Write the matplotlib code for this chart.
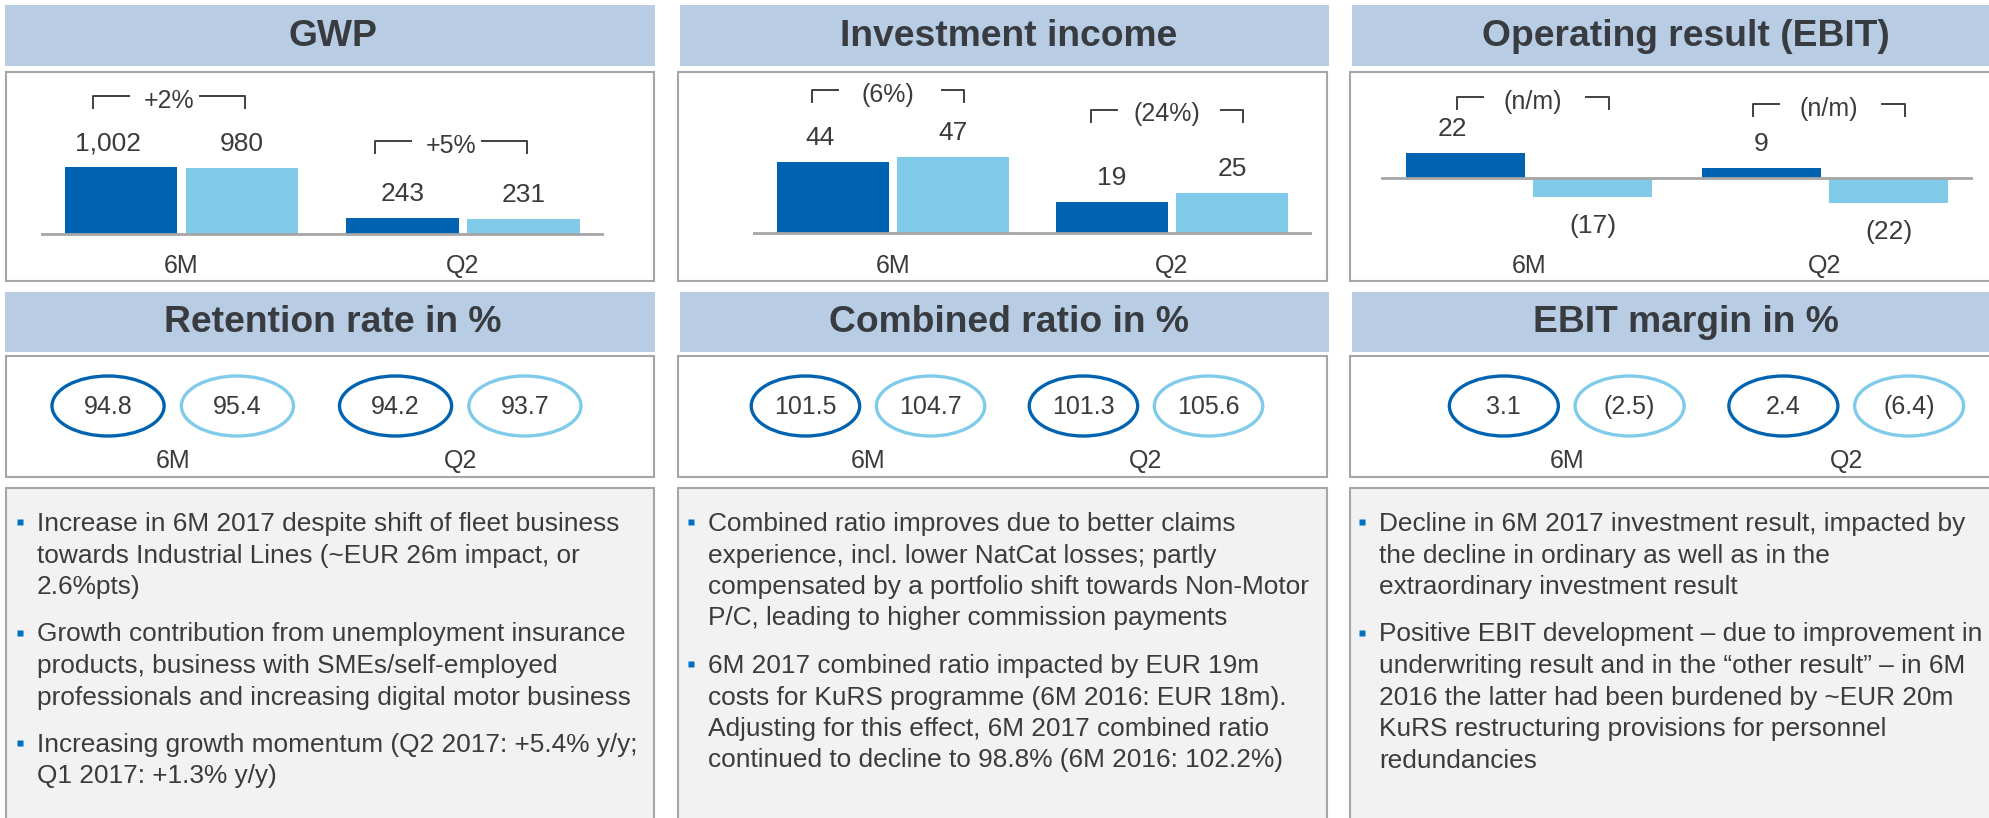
import numpy as np
import matplotlib
matplotlib.use("Agg")
import matplotlib.pyplot as plt
from matplotlib.patches import Rectangle, Ellipse
from matplotlib.transforms import blended_transform_factory

plt.rcParams['font.family'] = ['Liberation Sans', 'DejaVu Sans']

W, H = 1990, 818

DARK = '#0063b1'
LIGHT = '#80caea'
HEAD = '#b8cce4'
TXT = '#3b3b3b'
TITLE = '#383c40'
EDGE = '#a6a6a6'
NOTE_BG = '#f2f2f2'
BULLET = '#0070c0'

# ---- data ----
periods = ['6M', 'Q2']

gwp_2017 = [1002, 243]
gwp_2016 = [980, 231]
gwp_change = ['+2%', '+5%']

inv_2017 = [44, 19]
inv_2016 = [47, 25]
inv_change = ['(6%)', '(24%)']

ebit_2017 = [22, 9]
ebit_2016 = [-17, -22]
ebit_change = ['(n/m)', '(n/m)']

retention_2017 = [94.8, 94.2]
retention_2016 = [95.4, 93.7]
combined_2017 = [101.5, 101.3]
combined_2016 = [104.7, 105.6]
margin_2017 = [3.1, 2.4]
margin_2016 = [-2.5, -6.4]

titles_top = ['GWP', 'Investment income', 'Operating result (EBIT)']
titles_mid = ['Retention rate in %', 'Combined ratio in %', 'EBIT margin in %']

notes_gwp = [
    ['Increase in 6M 2017 despite shift of fleet business',
     'towards Industrial Lines (~EUR 26m impact, or',
     '2.6%pts)'],
    ['Growth contribution from unemployment insurance',
     'products, business with SMEs/self-employed',
     'professionals and increasing digital motor business'],
    ['Increasing growth momentum (Q2 2017: +5.4% y/y;',
     'Q1 2017: +1.3% y/y)'],
]
notes_cr = [
    ['Combined ratio improves due to better claims',
     'experience, incl. lower NatCat losses; partly',
     'compensated by a portfolio shift towards Non-Motor',
     'P/C, leading to higher commission payments'],
    ['6M 2017 combined ratio impacted by EUR 19m',
     'costs for KuRS programme (6M 2016: EUR 18m).',
     'Adjusting for this effect, 6M 2017 combined ratio',
     'continued to decline to 98.8% (6M 2016: 102.2%)'],
]
notes_ebit = [
    ['Decline in 6M 2017 investment result, impacted by',
     'the decline in ordinary as well as in the',
     'extraordinary investment result'],
    ['Positive EBIT development \u2013 due to improvement in',
     'underwriting result and in the \u201cother result\u201d \u2013 in 6M',
     '2016 the latter had been burdened by ~EUR 20m',
     'KuRS restructuring provisions for personnel',
     'redundancies'],
]


def fmt(v, dec=0):
    s = f'{abs(v):,.{dec}f}'
    return f'({s})' if v < 0 else s


fig = plt.figure(figsize=(19.9, 8.18), dpi=100)
bg = fig.add_axes([0, 0, 1, 1])
bg.set_xlim(0, W)
bg.set_ylim(H, 0)
bg.axis('off')


def px_axes(x0, y0, x1, y1):
    ax = fig.add_axes([x0 / W, 1 - y1 / H, (x1 - x0) / W, (y1 - y0) / H])
    ax.axis('off')
    return ax


# ---- frames ----
head_cols = [(5, 655), (680, 1329), (1352, 2010)]
box_cols = [(6, 654), (678, 1327), (1350, 2010)]
title_x = [333, 1009, 1686]

for (hx0, hx1), (bx0, bx1), tx, t1, t2 in zip(head_cols, box_cols, title_x, titles_top, titles_mid):
    for (y0, y1), t in [((5, 66), t1), ((292, 352), t2)]:
        bg.add_patch(Rectangle((hx0, y0), hx1 - hx0, y1 - y0, fc=HEAD, ec='none'))
        bg.text(tx, (y0 + y1) / 2 + 1, t, ha='center', va='center', fontsize=26.8,
                fontweight='bold', color=TITLE)
    bg.add_patch(Rectangle((bx0, 72), bx1 - bx0, 209, fc='white', ec=EDGE, lw=1.5))
    bg.add_patch(Rectangle((bx0, 356), bx1 - bx0, 121, fc='white', ec=EDGE, lw=1.5))
    bg.add_patch(Rectangle((bx0, 488), bx1 - bx0, 340, fc=NOTE_BG, ec=EDGE, lw=1.5))


# ---- bar panels ----
def bar_panel(x0, x1, base_y, ppu, cur, prev, changes, gaps, span, end_px):
    top, bot = 72, 281
    ax = px_axes(x0, top, x1, bot)
    ax.set_xlim(-0.5, 1.5)
    ax.set_ylim(-(bot - base_y) / ppu, (base_y - top) / ppu)
    x = np.arange(len(cur))
    off, bw = 0.215, 0.4
    ax.bar(x - off, cur, bw, color=DARK, zorder=2)
    ax.bar(x + off, prev, bw, color=LIGHT, zorder=2)
    ax.axhline(0, color=EDGE, lw=2, zorder=3)
    upx = (x1 - x0) / 2.0  # pixels per x unit
    for k, (xs, vals) in enumerate([(x - off, cur), (x + off, prev)]):
        for i, (xi, v) in enumerate(zip(xs, vals)):
            dx = -13 if (k == 0 and i == 0) else 0
            ax.annotate(fmt(v), (xi, v),
                        xytext=(dx, 24 if v >= 0 else -29), textcoords='offset pixels',
                        ha='center', va='center', fontsize=19, color=TXT)
    tr = blended_transform_factory(ax.transData, bg.transData)
    for xi, p in zip(x, periods):
        ax.text(xi, 266, p, transform=tr, ha='center', va='center', fontsize=18, color=TXT)
    tick = 12 / ppu
    for xi, c, a, b, g in zip(x, changes, cur, prev, gaps):
        yb = max(a, b, 0) + g / ppu
        left, right = xi + span[0], xi + span[1]
        ax.plot([left, left, left + end_px[0] / upx], [yb - tick, yb, yb], color='#404040', lw=1.4)
        ax.plot([right - end_px[1] / upx, right, right], [yb, yb, yb - tick], color='#404040', lw=1.4)
        ax.annotate(c, ((left + right) / 2, yb), xytext=(0, -5), textcoords='offset pixels',
                    ha='center', va='center', fontsize=18, color=TXT)
    return ax


bar_panel(40.75, 603.75, 234, 67 / 1002, gwp_2017, gwp_2016, gwp_change, (71, 77),
          (-0.314, 0.226), (36, 45))
bar_panel(753.5, 1311.5, 233, 1.62, inv_2017, inv_2016, inv_change, (67, 83),
          (-0.29, 0.254), (26, 22))
bar_panel(1381, 1973, 178, 1.12, ebit_2017, ebit_2016, ebit_change, (56, 64),
          (-0.243, 0.27), (26, 23))


# ---- ellipse panels ----
def ellipse_panel(x0, x1, cur, prev):
    ax = px_axes(x0, 356, x1, 477)
    ax.set_xlim(-0.5, 1.5)
    ax.set_ylim(477, 356)
    x = np.arange(len(cur))
    off, ew = 0.225, 0.39
    for xs, vals, col in [(x - off, cur, DARK), (x + off, prev, LIGHT)]:
        for xi, v in zip(xs, vals):
            ax.add_patch(Ellipse((xi, 406), ew, 60, fill=False, ec=col, lw=2.4))
            ax.text(xi, 407, fmt(v, 1), ha='center', va='center', fontsize=18, color=TXT)
    for xi, p in zip(x, periods):
        ax.text(xi, 461, p, ha='center', va='center', fontsize=18, color=TXT)
    return ax


ellipse_panel(29, 604, retention_2017, retention_2016)
ellipse_panel(729, 1285, combined_2017, combined_2016)
ellipse_panel(1427, 1986, margin_2017, margin_2016)


# ---- commentary ----
def notes(text_x, paras, y_first=524, step=31.5, para_gap=16):
    y = y_first
    for para in paras:
        bg.plot([text_x - 17], [y - 2], marker='s', ms=5, color=BULLET, mec='none')
        for line in para:
            bg.text(text_x, y, line, ha='left', va='center', fontsize=18.9, color=TXT)
            y += step
        y += para_gap


notes(37, notes_gwp)
notes(708, notes_cr)
notes(1379, notes_ebit)

fig.savefig('out.png', dpi=100)
